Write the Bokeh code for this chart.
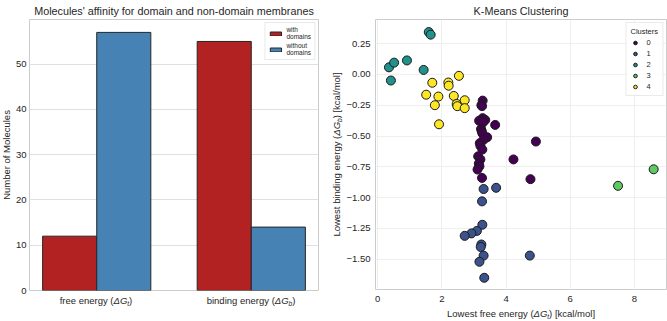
from math import pi

from bokeh.embed import file_html
from bokeh.layouts import column, row
from bokeh.models import (CustomJSTickFormatter, FixedTicker, Label, Legend,
                          LegendItem, Range1d)
from bokeh.plotting import figure
from bokeh.resources import INLINE

FONT = "Liberation Sans"
INK = "#262626"

# ---- bar chart: how many molecules prefer each membrane type ----
energy_kinds = ["free energy", "binding energy"]
energy_subscripts = ["t", "b"]
with_domains = [12, 55]
without_domains = [57, 14]
count_ticks = [0, 10, 20, 30, 40, 50]

# ---- k-means result: lowest free / binding energy per molecule ----
free_energy = [
    # cluster 0
    3.27, 3.23, 3.25, 3.27, 3.16, 3.35, 3.66, 3.28, 3.22, 3.24, 3.26, 3.41,
    3.30, 3.18, 3.20, 4.93, 3.26, 3.13, 3.20, 4.23, 3.15, 3.17, 3.11, 3.25, 4.76,
    # cluster 1
    3.30, 3.69, 3.25, 3.26, 3.09, 2.92, 2.71, 3.23, 3.21, 3.30, 3.17, 4.74, 3.32,
    # cluster 2
    1.59, 1.65, 0.35, 0.51, 0.91, 0.41, 1.43,
    # cluster 3
    7.49, 8.60,
    # cluster 4
    1.70, 2.20, 2.21, 2.53, 1.51, 1.89, 1.78, 2.37, 2.46, 2.48, 2.71, 2.71, 1.91,
]
binding_energy = [
    -0.213, -0.250, -0.258, -0.355, -0.376, -0.370, -0.410, -0.390, -0.443, -0.460,
    -0.478, -0.510, -0.530, -0.558, -0.580, -0.545, -0.610, -0.665, -0.690, -0.690,
    -0.724, -0.745, -0.772, -0.840, -0.850,
    -0.930, -0.920, -1.030, -1.220, -1.270, -1.290, -1.310, -1.380, -1.400, -1.470,
    -1.520, -1.470, -1.650,
    0.343, 0.322, 0.057, 0.095, 0.113, -0.050, 0.036,
    -0.904, -0.770,
    -0.068, -0.066, -0.092, -0.012, -0.165, -0.180, -0.250, -0.175, -0.240, -0.258,
    -0.210, -0.274, -0.405,
]
cluster = [0] * 25 + [1] * 13 + [2] * 7 + [3] * 2 + [4] * 13
cluster_ids = [0, 1, 2, 3, 4]
cluster_colors = ["#440154", "#3b528b", "#21918c", "#5ec962", "#fde725"]
free_ticks = [0, 2, 4, 6, 8]
binding_ticks = [-1.5, -1.25, -1.0, -0.75, -0.5, -0.25, 0.0, 0.25]

# Advance widths (em) of the sans font; text is laid out piece by piece
# from these so that subscripts can follow the main text.
ADVANCE = {
    " ": 0.278, "(": 0.333, ")": 0.333, "[": 0.278, "]": 0.278, "/": 0.278,
    "a": 0.556, "b": 0.556, "c": 0.5, "d": 0.556, "e": 0.556, "f": 0.278,
    "g": 0.556, "i": 0.222, "k": 0.5, "l": 0.222, "m": 0.833, "n": 0.556,
    "o": 0.556, "r": 0.333, "s": 0.5, "t": 0.278, "u": 0.556, "w": 0.722,
    "y": 0.5, "L": 0.556, "G": 0.778, "M": 0.833, "N": 0.722, "Δ": 0.667,
}
LABEL_PX = 9.5
TITLE_PX = 10.8


def text_width(s, size):
    return sum(ADVANCE.get(ch, 0.556) for ch in s) * size


def rich_text(p, x, y, pieces, size, vertical=False):
    """Draw a line of pieces (text, style, scale, drop) centred on x/y."""
    widths = [text_width(t, size * sc) for t, _, sc, _ in pieces]
    pos = -sum(widths) / 2.0
    for (t, style, sc, drop), w in zip(pieces, widths):
        common = dict(x=x, y=y, text=t, text_font=FONT, text_font_style=style,
                      text_font_size=f"{size * sc:.2f}px", text_color=INK,
                      text_align="left", text_baseline="middle")
        if vertical:
            lab = Label(x_offset=drop * size, y_offset=pos, angle=pi / 2, **common)
        else:
            lab = Label(x_offset=pos, y_offset=-drop * size, **common)
        p.add_layout(lab)
        pos += w


def plain(text):
    return [(text, "normal", 1.0, 0.0)]


def energy_pieces(prefix, sub, suffix=")"):
    return [(prefix + " (", "normal", 1.0, 0.0), ("ΔG", "italic", 1.0, 0.0),
            (sub, "italic", 0.7, 0.3), (suffix, "normal", 1.0, 0.0)]


def strip(width, height, x_range, y_range, left=0, right=0, top=0, bottom=0):
    """Axis-less panel that carries text next to a chart frame."""
    s = figure(width=width, height=height, x_range=x_range, y_range=y_range,
               x_axis_type=None, y_axis_type=None, output_backend="svg",
               toolbar_location=None, min_border_left=left, min_border_right=right,
               min_border_top=top, min_border_bottom=bottom)
    s.outline_line_color = None
    s.background_fill_color = "white"
    s.border_fill_color = "white"
    return s


def style_frame(p, grid_color):
    p.outline_line_color = "#cccccc"
    p.outline_line_width = 1
    p.background_fill_color = "white"
    p.border_fill_color = "white"
    p.title.text_font = FONT
    p.title.text_font_size = f"{TITLE_PX}px"
    p.title.text_font_style = "normal"
    p.title.text_color = INK
    p.title.align = "center"
    p.title.standoff = 5
    for ax in p.axis:
        ax.axis_line_color = None
        ax.major_tick_line_color = None
        ax.minor_tick_line_color = None
        ax.major_tick_out = 0
        ax.major_tick_in = 0
        ax.major_label_text_font = FONT
        ax.major_label_text_font_size = f"{LABEL_PX}px"
        ax.major_label_text_color = INK
        ax.major_label_standoff = 5
    for g in p.grid:
        g.grid_line_color = grid_color
        g.grid_line_width = 1


# ---------------- left: grouped bars ----------------
YL1_W, P1_BL, P1_BR, P1_FW = 12, 16, 12, 290
P1_BT, P1_BB, P1_FH = 17, 5, 273
P1_H = P1_BT + P1_FH + P1_BB
XS1_H = 321 - P1_H
LEFT_W = YL1_W + P1_BL + P1_FW + P1_BR

p1 = figure(width=P1_BL + P1_FW + P1_BR, height=P1_H, output_backend="svg",
            toolbar_location=None, x_range=Range1d(-0.435, 1.435),
            y_range=Range1d(0, 59.85), min_border_left=P1_BL,
            min_border_right=P1_BR, min_border_top=P1_BT, min_border_bottom=P1_BB,
            title="Molecules' affinity for domain and non-domain membranes")
style_frame(p1, "#e0e0e0")
p1.xaxis.visible = False
p1.xgrid.visible = False
p1.yaxis.ticker = FixedTicker(ticks=count_ticks)
p1.yaxis.major_label_standoff = 3

bar_w = 0.35
idx = list(range(len(energy_kinds)))
r_with = p1.vbar(x=[i - bar_w / 2 for i in idx], top=with_domains, width=bar_w,
                 fill_color="#b22222", line_color=INK, line_width=1)
r_without = p1.vbar(x=[i + bar_w / 2 for i in idx], top=without_domains, width=bar_w,
                    fill_color="#4682b4", line_color=INK, line_width=1)

leg1 = Legend(items=[LegendItem(label="with\ndomains", renderers=[r_with]),
                     LegendItem(label="without\ndomains", renderers=[r_without])],
              location="top_right", margin=3, padding=3, spacing=2,
              glyph_width=14, glyph_height=5, label_height=14, label_standoff=4,
              label_text_font=FONT, label_text_font_size="6.5px",
              label_text_color=INK, label_text_line_height=1.1,
              border_line_color="#d5d5d5", background_fill_alpha=0.85)
p1.add_layout(leg1)

yl1 = strip(YL1_W, P1_H, Range1d(0, YL1_W), p1.y_range, top=P1_BT, bottom=P1_BB)
rich_text(yl1, 5.5, (p1.y_range.start + p1.y_range.end) / 2,
          plain("Number of Molecules"), LABEL_PX, vertical=True)

xs1 = strip(LEFT_W, XS1_H, p1.x_range, Range1d(-XS1_H, 0),
            left=YL1_W + P1_BL, right=P1_BR)
for i, (kind, sub) in enumerate(zip(energy_kinds, energy_subscripts)):
    rich_text(xs1, i, -5, energy_pieces(kind, sub), LABEL_PX)

left_panel = column(row(yl1, p1), xs1)

# ---------------- right: k-means scatter ----------------
YL2_W, P2_BL, P2_BR, P2_FW = 13, 32, 1, 291
P2_BT, P2_BB, P2_FH = 17, 17, 272
P2_H = P2_BT + P2_FH + P2_BB
XL2_H = 321 - P2_H
RIGHT_W = YL2_W + P2_BL + P2_FW + P2_BR

p2 = figure(width=P2_BL + P2_FW + P2_BR, height=P2_H, output_backend="svg",
            toolbar_location=None, x_range=Range1d(-0.07, 9.0),
            y_range=Range1d(-1.745, 0.445), min_border_left=P2_BL,
            min_border_right=P2_BR, min_border_top=P2_BT, min_border_bottom=P2_BB,
            title="K-Means Clustering")
style_frame(p2, "#efefef")
p2.xaxis.ticker = FixedTicker(ticks=free_ticks)
p2.xaxis.major_label_standoff = 6
p2.yaxis.ticker = FixedTicker(ticks=binding_ticks)
p2.yaxis.formatter = CustomJSTickFormatter(
    code="return (tick < 0 ? '\u2212' : '') + Math.abs(tick).toFixed(2);")

items = []
for cid, color in zip(cluster_ids, cluster_colors):
    xs = [x for x, c in zip(free_energy, cluster) if c == cid]
    ys = [y for y, c in zip(binding_energy, cluster) if c == cid]
    r = p2.scatter(xs, ys, size=9, fill_color=color, line_color="#1a1a1a",
                   line_width=1)
    items.append(LegendItem(label=str(cid), renderers=[r]))

leg2 = Legend(items=items, location="top_right", margin=3, padding=4, spacing=2,
              title="Clusters", title_text_font=FONT, title_text_font_size="7.5px",
              title_text_font_style="normal", title_text_color=INK, title_standoff=2,
              glyph_width=9, glyph_height=9, label_height=9, label_width=8,
              label_standoff=7, label_text_font=FONT, label_text_font_size="7.5px",
              label_text_color=INK, border_line_color="#d5d5d5",
              background_fill_alpha=0.85)
p2.add_layout(leg2)

yl2 = strip(YL2_W, P2_H, Range1d(0, YL2_W), p2.y_range, top=P2_BT, bottom=P2_BB)
rich_text(yl2, 6, (p2.y_range.start + p2.y_range.end) / 2,
          energy_pieces("Lowest binding energy", "b", ") [kcal/mol]"), LABEL_PX,
          vertical=True)

xl2 = strip(RIGHT_W, XL2_H, p2.x_range, Range1d(-XL2_H, 0),
            left=YL2_W + P2_BL, right=P2_BR)
rich_text(xl2, (p2.x_range.start + p2.x_range.end) / 2, -7,
          energy_pieces("Lowest free energy", "t", ") [kcal/mol]"), LABEL_PX)

right_panel = column(row(yl2, p2), xl2)

layout = row(left_panel, right_panel)
open("out.html", "w").write(file_html(layout, INLINE))
